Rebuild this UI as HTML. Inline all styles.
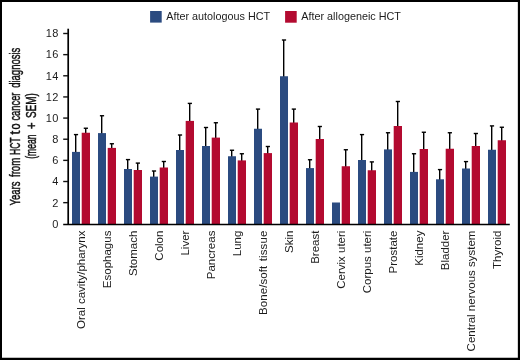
<!DOCTYPE html>
<html><head><meta charset="utf-8"><title>Chart</title>
<style>html,body{margin:0;padding:0;background:#fff;width:520px;height:360px;overflow:hidden}body{position:relative;font-family:"Liberation Sans",sans-serif}</style>
</head><body>
<svg width="520" height="360" viewBox="0 0 520 360" style="position:absolute;left:0;top:0;display:block;will-change:transform" font-family="'Liberation Sans', sans-serif">
<rect x="0" y="0" width="520" height="360" fill="#fff"/>
<path d="M75.70 152.90V134.60" stroke="#000" stroke-width="1.4" fill="none"/>
<path d="M73.90 134.60H78.10" stroke="#000" stroke-width="1.4" fill="none"/>
<rect x="72.00" y="151.90" width="8.00" height="72.10" fill="#2b4b80"/>
<path d="M85.70 133.75V128.25" stroke="#000" stroke-width="1.4" fill="none"/>
<path d="M83.75 128.25H87.95" stroke="#000" stroke-width="1.4" fill="none"/>
<rect x="81.70" y="132.75" width="8.30" height="91.25" fill="#b30a30"/>
<path d="M101.70 134.10V115.75" stroke="#000" stroke-width="1.4" fill="none"/>
<path d="M99.90 115.75H104.10" stroke="#000" stroke-width="1.4" fill="none"/>
<rect x="98.00" y="133.10" width="8.00" height="90.90" fill="#2b4b80"/>
<path d="M111.70 148.90V143.75" stroke="#000" stroke-width="1.4" fill="none"/>
<path d="M109.75 143.75H113.95" stroke="#000" stroke-width="1.4" fill="none"/>
<rect x="107.70" y="147.90" width="8.30" height="76.10" fill="#b30a30"/>
<path d="M127.70 170.00V159.60" stroke="#000" stroke-width="1.4" fill="none"/>
<path d="M125.90 159.60H130.10" stroke="#000" stroke-width="1.4" fill="none"/>
<rect x="124.00" y="169.00" width="8.00" height="55.00" fill="#2b4b80"/>
<path d="M137.70 171.00V163.10" stroke="#000" stroke-width="1.4" fill="none"/>
<path d="M135.75 163.10H139.95" stroke="#000" stroke-width="1.4" fill="none"/>
<rect x="133.70" y="170.00" width="8.30" height="54.00" fill="#b30a30"/>
<path d="M153.70 177.60V171.00" stroke="#000" stroke-width="1.4" fill="none"/>
<path d="M151.90 171.00H156.10" stroke="#000" stroke-width="1.4" fill="none"/>
<rect x="150.00" y="176.60" width="8.00" height="47.40" fill="#2b4b80"/>
<path d="M163.70 168.50V161.50" stroke="#000" stroke-width="1.4" fill="none"/>
<path d="M161.75 161.50H165.95" stroke="#000" stroke-width="1.4" fill="none"/>
<rect x="159.70" y="167.50" width="8.30" height="56.50" fill="#b30a30"/>
<path d="M179.70 151.00V135.00" stroke="#000" stroke-width="1.4" fill="none"/>
<path d="M177.90 135.00H182.10" stroke="#000" stroke-width="1.4" fill="none"/>
<rect x="176.00" y="150.00" width="8.00" height="74.00" fill="#2b4b80"/>
<path d="M189.70 121.90V103.40" stroke="#000" stroke-width="1.4" fill="none"/>
<path d="M187.75 103.40H191.95" stroke="#000" stroke-width="1.4" fill="none"/>
<rect x="185.70" y="120.90" width="8.30" height="103.10" fill="#b30a30"/>
<path d="M205.70 147.00V127.50" stroke="#000" stroke-width="1.4" fill="none"/>
<path d="M203.90 127.50H208.10" stroke="#000" stroke-width="1.4" fill="none"/>
<rect x="202.00" y="146.00" width="8.00" height="78.00" fill="#2b4b80"/>
<path d="M215.70 138.60V122.75" stroke="#000" stroke-width="1.4" fill="none"/>
<path d="M213.75 122.75H217.95" stroke="#000" stroke-width="1.4" fill="none"/>
<rect x="211.70" y="137.60" width="8.30" height="86.40" fill="#b30a30"/>
<path d="M231.70 157.25V150.25" stroke="#000" stroke-width="1.4" fill="none"/>
<path d="M229.90 150.25H234.10" stroke="#000" stroke-width="1.4" fill="none"/>
<rect x="228.00" y="156.25" width="8.00" height="67.75" fill="#2b4b80"/>
<path d="M241.70 161.40V153.75" stroke="#000" stroke-width="1.4" fill="none"/>
<path d="M239.75 153.75H243.95" stroke="#000" stroke-width="1.4" fill="none"/>
<rect x="237.70" y="160.40" width="8.30" height="63.60" fill="#b30a30"/>
<path d="M257.70 129.75V109.10" stroke="#000" stroke-width="1.4" fill="none"/>
<path d="M255.90 109.10H260.10" stroke="#000" stroke-width="1.4" fill="none"/>
<rect x="254.00" y="128.75" width="8.00" height="95.25" fill="#2b4b80"/>
<path d="M267.70 154.10V146.50" stroke="#000" stroke-width="1.4" fill="none"/>
<path d="M265.75 146.50H269.95" stroke="#000" stroke-width="1.4" fill="none"/>
<rect x="263.70" y="153.10" width="8.30" height="70.90" fill="#b30a30"/>
<path d="M283.70 77.25V40.00" stroke="#000" stroke-width="1.4" fill="none"/>
<path d="M281.90 40.00H286.10" stroke="#000" stroke-width="1.4" fill="none"/>
<rect x="280.00" y="76.25" width="8.00" height="147.75" fill="#2b4b80"/>
<path d="M293.70 123.50V109.10" stroke="#000" stroke-width="1.4" fill="none"/>
<path d="M291.75 109.10H295.95" stroke="#000" stroke-width="1.4" fill="none"/>
<rect x="289.70" y="122.50" width="8.30" height="101.50" fill="#b30a30"/>
<path d="M309.70 169.10V159.75" stroke="#000" stroke-width="1.4" fill="none"/>
<path d="M307.90 159.75H312.10" stroke="#000" stroke-width="1.4" fill="none"/>
<rect x="306.00" y="168.10" width="8.00" height="55.90" fill="#2b4b80"/>
<path d="M319.70 140.00V126.50" stroke="#000" stroke-width="1.4" fill="none"/>
<path d="M317.75 126.50H321.95" stroke="#000" stroke-width="1.4" fill="none"/>
<rect x="315.70" y="139.00" width="8.30" height="85.00" fill="#b30a30"/>
<rect x="332.00" y="202.50" width="8.00" height="21.50" fill="#2b4b80"/>
<path d="M345.70 167.25V149.75" stroke="#000" stroke-width="1.4" fill="none"/>
<path d="M343.75 149.75H347.95" stroke="#000" stroke-width="1.4" fill="none"/>
<rect x="341.70" y="166.25" width="8.30" height="57.75" fill="#b30a30"/>
<path d="M361.70 161.00V134.60" stroke="#000" stroke-width="1.4" fill="none"/>
<path d="M359.90 134.60H364.10" stroke="#000" stroke-width="1.4" fill="none"/>
<rect x="358.00" y="160.00" width="8.00" height="64.00" fill="#2b4b80"/>
<path d="M371.70 171.25V161.90" stroke="#000" stroke-width="1.4" fill="none"/>
<path d="M369.75 161.90H373.95" stroke="#000" stroke-width="1.4" fill="none"/>
<rect x="367.70" y="170.25" width="8.30" height="53.75" fill="#b30a30"/>
<path d="M387.70 150.40V132.75" stroke="#000" stroke-width="1.4" fill="none"/>
<path d="M385.90 132.75H390.10" stroke="#000" stroke-width="1.4" fill="none"/>
<rect x="384.00" y="149.40" width="8.00" height="74.60" fill="#2b4b80"/>
<path d="M397.70 127.00V101.50" stroke="#000" stroke-width="1.4" fill="none"/>
<path d="M395.75 101.50H399.95" stroke="#000" stroke-width="1.4" fill="none"/>
<rect x="393.70" y="126.00" width="8.30" height="98.00" fill="#b30a30"/>
<path d="M413.70 172.90V153.75" stroke="#000" stroke-width="1.4" fill="none"/>
<path d="M411.90 153.75H416.10" stroke="#000" stroke-width="1.4" fill="none"/>
<rect x="410.00" y="171.90" width="8.00" height="52.10" fill="#2b4b80"/>
<path d="M423.70 150.00V132.25" stroke="#000" stroke-width="1.4" fill="none"/>
<path d="M421.75 132.25H425.95" stroke="#000" stroke-width="1.4" fill="none"/>
<rect x="419.70" y="149.00" width="8.30" height="75.00" fill="#b30a30"/>
<path d="M439.70 180.30V169.60" stroke="#000" stroke-width="1.4" fill="none"/>
<path d="M437.90 169.60H442.10" stroke="#000" stroke-width="1.4" fill="none"/>
<rect x="436.00" y="179.30" width="8.00" height="44.70" fill="#2b4b80"/>
<path d="M449.70 149.75V132.75" stroke="#000" stroke-width="1.4" fill="none"/>
<path d="M447.75 132.75H451.95" stroke="#000" stroke-width="1.4" fill="none"/>
<rect x="445.70" y="148.75" width="8.30" height="75.25" fill="#b30a30"/>
<path d="M465.70 169.50V161.60" stroke="#000" stroke-width="1.4" fill="none"/>
<path d="M463.90 161.60H468.10" stroke="#000" stroke-width="1.4" fill="none"/>
<rect x="462.00" y="168.50" width="8.00" height="55.50" fill="#2b4b80"/>
<path d="M475.70 147.00V133.50" stroke="#000" stroke-width="1.4" fill="none"/>
<path d="M473.75 133.50H477.95" stroke="#000" stroke-width="1.4" fill="none"/>
<rect x="471.70" y="146.00" width="8.30" height="78.00" fill="#b30a30"/>
<path d="M491.70 150.75V125.90" stroke="#000" stroke-width="1.4" fill="none"/>
<path d="M489.90 125.90H494.10" stroke="#000" stroke-width="1.4" fill="none"/>
<rect x="488.00" y="149.75" width="8.00" height="74.25" fill="#2b4b80"/>
<path d="M501.70 141.25V127.25" stroke="#000" stroke-width="1.4" fill="none"/>
<path d="M499.75 127.25H503.95" stroke="#000" stroke-width="1.4" fill="none"/>
<rect x="497.70" y="140.25" width="8.30" height="83.75" fill="#b30a30"/>
<path d="M68.2 28.7V225" stroke="#000" stroke-width="1.7" fill="none"/>
<path d="M63.2 224.5H509.8" stroke="#000" stroke-width="1.5" fill="none"/>
<path d="M63.2 202.66H68" stroke="#111" stroke-width="1.4" fill="none"/>
<path d="M63.2 181.51H68" stroke="#111" stroke-width="1.4" fill="none"/>
<path d="M63.2 160.37H68" stroke="#111" stroke-width="1.4" fill="none"/>
<path d="M63.2 139.22H68" stroke="#111" stroke-width="1.4" fill="none"/>
<path d="M63.2 118.08H68" stroke="#111" stroke-width="1.4" fill="none"/>
<path d="M63.2 96.93H68" stroke="#111" stroke-width="1.4" fill="none"/>
<path d="M63.2 75.79H68" stroke="#111" stroke-width="1.4" fill="none"/>
<path d="M63.2 54.64H68" stroke="#111" stroke-width="1.4" fill="none"/>
<path d="M63.2 33.50H68" stroke="#111" stroke-width="1.4" fill="none"/>
<text x="58.8" y="227.65" font-size="11.0" text-anchor="end" letter-spacing="0.4" fill="#1c1c1c">0</text>
<text x="58.8" y="206.50" font-size="11.0" text-anchor="end" letter-spacing="0.4" fill="#1c1c1c">2</text>
<text x="58.8" y="185.36" font-size="11.0" text-anchor="end" letter-spacing="0.4" fill="#1c1c1c">4</text>
<text x="58.8" y="164.22" font-size="11.0" text-anchor="end" letter-spacing="0.4" fill="#1c1c1c">6</text>
<text x="58.8" y="143.07" font-size="11.0" text-anchor="end" letter-spacing="0.4" fill="#1c1c1c">8</text>
<text x="58.8" y="121.93" font-size="11.0" text-anchor="end" letter-spacing="0.4" fill="#1c1c1c">10</text>
<text x="58.8" y="100.78" font-size="11.0" text-anchor="end" letter-spacing="0.4" fill="#1c1c1c">12</text>
<text x="58.8" y="79.64" font-size="11.0" text-anchor="end" letter-spacing="0.4" fill="#1c1c1c">14</text>
<text x="58.8" y="58.49" font-size="11.0" text-anchor="end" letter-spacing="0.4" fill="#1c1c1c">16</text>
<text x="58.8" y="37.35" font-size="11.0" text-anchor="end" letter-spacing="0.4" fill="#1c1c1c">18</text>
<text transform="translate(84.75 230.6) rotate(-90)" font-size="11.5" text-anchor="end" fill="#1c1c1c">Oral cavity/pharynx</text>
<text transform="translate(110.75 230.6) rotate(-90)" font-size="11.5" text-anchor="end" fill="#1c1c1c">Esophagus</text>
<text transform="translate(136.75 230.6) rotate(-90)" font-size="11.5" text-anchor="end" fill="#1c1c1c">Stomach</text>
<text transform="translate(162.75 230.6) rotate(-90)" font-size="11.5" text-anchor="end" fill="#1c1c1c">Colon</text>
<text transform="translate(188.75 230.6) rotate(-90)" font-size="11.5" text-anchor="end" fill="#1c1c1c">Liver</text>
<text transform="translate(214.75 230.6) rotate(-90)" font-size="11.5" text-anchor="end" fill="#1c1c1c">Pancreas</text>
<text transform="translate(240.75 230.6) rotate(-90)" font-size="11.5" text-anchor="end" fill="#1c1c1c">Lung</text>
<text transform="translate(266.75 230.6) rotate(-90)" font-size="11.5" text-anchor="end" fill="#1c1c1c" word-spacing="1.2" letter-spacing="0.09">Bone/soft tissue</text>
<text transform="translate(292.75 230.6) rotate(-90)" font-size="11.5" text-anchor="end" fill="#1c1c1c">Skin</text>
<text transform="translate(318.75 230.6) rotate(-90)" font-size="11.5" text-anchor="end" fill="#1c1c1c">Breast</text>
<text transform="translate(344.75 230.6) rotate(-90)" font-size="11.5" text-anchor="end" fill="#1c1c1c">Cervix uteri</text>
<text transform="translate(370.75 230.6) rotate(-90)" font-size="11.5" text-anchor="end" fill="#1c1c1c">Corpus uteri</text>
<text transform="translate(396.75 230.6) rotate(-90)" font-size="11.5" text-anchor="end" fill="#1c1c1c">Prostate</text>
<text transform="translate(422.75 230.6) rotate(-90)" font-size="11.5" text-anchor="end" fill="#1c1c1c">Kidney</text>
<text transform="translate(448.75 230.6) rotate(-90)" font-size="11.5" text-anchor="end" fill="#1c1c1c">Bladder</text>
<text transform="translate(474.75 230.6) rotate(-90)" font-size="11.5" text-anchor="end" fill="#1c1c1c">Central nervous system</text>
<text transform="translate(500.75 230.6) rotate(-90)" font-size="11.5" text-anchor="end" fill="#1c1c1c">Thyroid</text>
<rect x="150.1" y="11.0" width="11.6" height="11.6" fill="#2b4b80"/>
<text x="166.3" y="20.2" font-size="10.8" fill="#1c1c1c">After autologous HCT</text>
<rect x="285.1" y="11.0" width="11.6" height="11.7" fill="#b30a30"/>
<text x="301.3" y="20.2" font-size="10.8" fill="#1c1c1c">After allogeneic HCT</text>
<text transform="translate(19.9 205.60) rotate(-90) scale(0.6828 1)" font-size="14.0" fill="#111" stroke="#111" stroke-width="0.45">Years</text>
<text transform="translate(19.9 177.00) rotate(-90) scale(0.6875 1)" font-size="14.0" fill="#111" stroke="#111" stroke-width="0.45">from</text>
<text transform="translate(19.9 155.00) rotate(-90) scale(0.6083 1)" font-size="14.0" fill="#111" stroke="#111" stroke-width="0.45">HCT</text>
<text transform="translate(19.9 134.40) rotate(-90) scale(0.9764 1)" font-size="14.0" fill="#111" stroke="#111" stroke-width="0.45">t</text>
<text transform="translate(19.9 129.60) rotate(-90) scale(0.7837 1)" font-size="14.0" fill="#111" stroke="#111" stroke-width="0.45">o</text>
<text transform="translate(19.9 120.60) rotate(-90) scale(0.6688 1)" font-size="14.0" fill="#111" stroke="#111" stroke-width="0.45">cancer</text>
<text transform="translate(19.9 87.75) rotate(-90) scale(0.6762 1)" font-size="14.0" fill="#111" stroke="#111" stroke-width="0.45">diagnosis</text>
<text transform="translate(35.9 158.75) rotate(-90) scale(0.6135 1)" font-size="14.0" fill="#111" stroke="#111" stroke-width="0.45">(mean</text>
<text transform="translate(35.9 128.90) rotate(-90) scale(0.7950 1)" font-size="14.0" fill="#111" stroke="#111" stroke-width="0.45">+</text>
<text transform="translate(35.9 118.10) rotate(-90) scale(0.7143 1)" font-size="14.0" fill="#111" stroke="#111" stroke-width="0.45">SEM)</text>
<path d="M0 0H520V360H0Z M2 1.9V357.85H517.85V1.9Z" fill="#000" fill-rule="evenodd"/>
</svg>
</body></html>
